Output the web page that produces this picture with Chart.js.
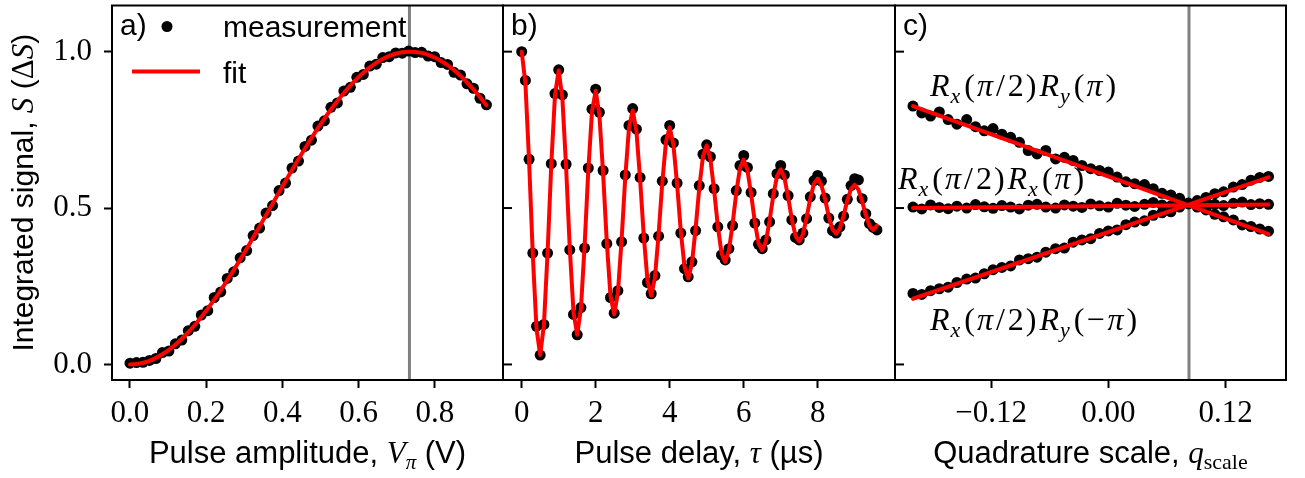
<!DOCTYPE html>
<html>
<head>
<meta charset="utf-8">
<script src="https://cdn.jsdelivr.net/npm/chart.js@4.4.0/dist/chart.umd.min.js"></script>
<style>
  body { margin: 0; background: #fff; }
  #wrap { position: relative; width: 1305px; height: 478px; }
  #wrap canvas { position: absolute; left: 0; top: 0; }
</style>
</head>
<body>
<div id="wrap">
  <canvas id="chartA" width="1305" height="478"></canvas>
  <canvas id="chartB" width="1305" height="478"></canvas>
  <canvas id="chartC" width="1305" height="478"></canvas>
</div>
<script>
// a) amplitude sweep
const ampV = [0.000, 0.017, 0.034, 0.051, 0.068, 0.085, 0.102, 0.119, 0.136, 0.153,
  0.170, 0.187, 0.204, 0.221, 0.238, 0.255, 0.272, 0.289, 0.306, 0.323,
  0.340, 0.357, 0.374, 0.391, 0.408, 0.425, 0.442, 0.459, 0.476, 0.493,
  0.510, 0.527, 0.544, 0.561, 0.578, 0.595, 0.612, 0.629, 0.646, 0.663,
  0.680, 0.697, 0.714, 0.731, 0.748, 0.765, 0.782, 0.799, 0.816, 0.833,
  0.850, 0.867, 0.884, 0.901, 0.918, 0.935];
const ampMeas = [0.004, 0.006, 0.007, 0.013, 0.019, 0.038, 0.043, 0.066, 0.078, 0.108,
  0.122, 0.158, 0.172, 0.214, 0.232, 0.275, 0.296, 0.341, 0.364, 0.412,
  0.436, 0.484, 0.508, 0.556, 0.580, 0.628, 0.650, 0.697, 0.717, 0.762,
  0.779, 0.822, 0.836, 0.874, 0.886, 0.918, 0.927, 0.954, 0.960, 0.981,
  0.984, 0.996, 0.995, 1.002, 0.997, 0.998, 0.986, 0.984, 0.965, 0.959,
  0.934, 0.925, 0.897, 0.883, 0.851, 0.830];
const ampFit = [0.0000, 0.0013, 0.0053, 0.0118, 0.0210, 0.0326, 0.0468, 0.0633, 0.0821, 0.1032,
  0.1263, 0.1514, 0.1783, 0.2070, 0.2371, 0.2689, 0.3015, 0.3351, 0.3701, 0.4055,
  0.4414, 0.4776, 0.5139, 0.5501, 0.5861, 0.6216, 0.6565, 0.6906, 0.7236, 0.7555,
  0.7860, 0.8150, 0.8424, 0.8679, 0.8915, 0.9131, 0.9324, 0.9496, 0.9642, 0.9765,
  0.9862, 0.9934, 0.9980, 0.9999, 0.9992, 0.9959, 0.9900, 0.9814, 0.9703, 0.9568,
  0.9408, 0.9225, 0.9020, 0.8793, 0.8547, 0.8282];
const vPi = 0.733;

// b) delay sweep
const delayUs = [0.0, 0.1, 0.2, 0.3, 0.4, 0.5, 0.6, 0.7, 0.8, 0.9,
  1.0, 1.1, 1.2, 1.3, 1.4, 1.5, 1.6, 1.7, 1.8, 1.9,
  2.0, 2.1, 2.2, 2.3, 2.4, 2.5, 2.6, 2.7, 2.8, 2.9,
  3.0, 3.1, 3.2, 3.3, 3.4, 3.5, 3.6, 3.7, 3.8, 3.9,
  4.0, 4.1, 4.2, 4.3, 4.4, 4.5, 4.6, 4.7, 4.8, 4.9,
  5.0, 5.1, 5.2, 5.3, 5.4, 5.5, 5.6, 5.7, 5.8, 5.9,
  6.0, 6.1, 6.2, 6.3, 6.4, 6.5, 6.6, 6.7, 6.8, 6.9,
  7.0, 7.1, 7.2, 7.3, 7.4, 7.5, 7.6, 7.7, 7.8, 7.9,
  8.0, 8.1, 8.2, 8.3, 8.4, 8.5, 8.6, 8.7, 8.8, 8.9,
  9.0, 9.1, 9.2, 9.3, 9.4, 9.5, 9.6];
const delayMeas = [1.000, 0.908, 0.656, 0.356, 0.122, 0.030, 0.128, 0.356, 0.642, 0.866,
  0.942, 0.862, 0.640, 0.366, 0.160, 0.095, 0.182, 0.372, 0.628, 0.816,
  0.880, 0.806, 0.620, 0.386, 0.214, 0.164, 0.236, 0.392, 0.606, 0.764,
  0.818, 0.752, 0.598, 0.404, 0.262, 0.226, 0.284, 0.410, 0.586, 0.718,
  0.764, 0.708, 0.580, 0.420, 0.306, 0.280, 0.328, 0.428, 0.572, 0.672,
  0.702, 0.664, 0.562, 0.440, 0.350, 0.334, 0.370, 0.444, 0.556, 0.636,
  0.668, 0.630, 0.550, 0.452, 0.384, 0.370, 0.398, 0.456, 0.546, 0.610,
  0.636, 0.606, 0.540, 0.462, 0.406, 0.398, 0.420, 0.466, 0.536, 0.588,
  0.604, 0.586, 0.532, 0.468, 0.428, 0.420, 0.440, 0.474, 0.528, 0.572,
  0.594, 0.590, 0.530, 0.482, 0.450, 0.438, 0.430];
const delayFit = [1.000, 0.900, 0.651, 0.351, 0.115, 0.030, 0.125, 0.358, 0.640, 0.861,
  0.940, 0.850, 0.632, 0.371, 0.167, 0.095, 0.177, 0.379, 0.620, 0.808,
  0.875, 0.798, 0.612, 0.391, 0.219, 0.160, 0.229, 0.398, 0.600, 0.757,
  0.812, 0.747, 0.592, 0.410, 0.268, 0.220, 0.277, 0.416, 0.582, 0.712,
  0.758, 0.703, 0.576, 0.426, 0.313, 0.275, 0.322, 0.434, 0.565, 0.666,
  0.700, 0.657, 0.558, 0.443, 0.356, 0.328, 0.364, 0.449, 0.550, 0.628,
  0.655, 0.622, 0.545, 0.456, 0.388, 0.365, 0.393, 0.460, 0.540, 0.602,
  0.624, 0.598, 0.536, 0.465, 0.411, 0.393, 0.416, 0.469, 0.531, 0.578,
  0.594, 0.574, 0.528, 0.473, 0.432, 0.418, 0.435, 0.476, 0.524, 0.561,
  0.574, 0.559, 0.522, 0.478, 0.443, 0.430, 0.444];

// c) quadrature scale sweep
const qScale = [-0.200, -0.191, -0.182, -0.173, -0.164, -0.155, -0.145, -0.136, -0.127, -0.118,
  -0.109, -0.100, -0.091, -0.082, -0.073, -0.064, -0.054, -0.045, -0.036, -0.027,
  -0.018, -0.009, 0.000, 0.009, 0.018, 0.027, 0.037, 0.046, 0.055, 0.064,
  0.073, 0.082, 0.091, 0.100, 0.109, 0.118, 0.128, 0.137, 0.146, 0.155, 0.164];
const ryPlusMeas = [0.826, 0.804, 0.794, 0.807, 0.783, 0.768, 0.783, 0.760, 0.747, 0.754,
  0.736, 0.726, 0.710, 0.684, 0.673, 0.684, 0.657, 0.662, 0.652, 0.636,
  0.626, 0.620, 0.615, 0.599, 0.584, 0.578, 0.575, 0.562, 0.547, 0.542,
  0.531, 0.515, 0.503, 0.494, 0.480, 0.472, 0.462, 0.446, 0.441, 0.433, 0.426];
const rxPiMeas = [0.503, 0.497, 0.510, 0.502, 0.498, 0.506, 0.500, 0.511, 0.504, 0.499,
  0.508, 0.503, 0.497, 0.509, 0.512, 0.503, 0.500, 0.510, 0.506, 0.502,
  0.513, 0.507, 0.503, 0.515, 0.509, 0.505, 0.512, 0.518, 0.510, 0.507,
  0.516, 0.513, 0.509, 0.517, 0.512, 0.508, 0.515, 0.519, 0.511, 0.514, 0.512];
const ryMinusMeas = [0.227, 0.224, 0.236, 0.242, 0.247, 0.262, 0.273, 0.276, 0.290, 0.303,
  0.310, 0.315, 0.334, 0.338, 0.343, 0.359, 0.370, 0.372, 0.391, 0.398,
  0.402, 0.419, 0.427, 0.430, 0.447, 0.455, 0.459, 0.477, 0.485, 0.488,
  0.503, 0.516, 0.524, 0.534, 0.546, 0.552, 0.567, 0.575, 0.589, 0.598, 0.601];
const qFitEnds = [-0.200, 0.164];
const ryPlusFit = [0.826, 0.417];
const rxPiFit = [0.500, 0.511];
const ryMinusFit = [0.210, 0.598];
const qOpt = 0.0826;

// ticks and ranges
const yTicks = [0, 0.5, 1.0];
const ampTicks = [0, 0.2, 0.4, 0.6, 0.8];
const delayTicks = [0, 2, 4, 6, 8];
const qTicks = [-0.12, 0, 0.12];
const yMin = -0.0497, yMax = 1.1475;

const SANS = '"Liberation Sans", Arial, sans-serif';
const SERIF = '"Liberation Serif", "Times New Roman", serif';
const STY = {
  sans: { font: '30px ' + SANS, dy: 0 },
  tsans: { font: '31px ' + SANS, dy: 0 },
  rm: { font: '31px ' + SERIF, dy: 0 },
  it: { font: 'italic 31px ' + SERIF, dy: 0 },
  sub: { font: 'italic 21px ' + SERIF, dy: 6 },
  subrm: { font: '22px ' + SERIF, dy: 6 },
  mrm: { font: '32px ' + SERIF, dy: 0 },
  mit: { font: 'italic 32px ' + SERIF, dy: 0 },
  msub: { font: 'italic 22px ' + SERIF, dy: 7 }
};

function pts(xs, ys) { return xs.map((x, i) => ({ x: x, y: ys[i] })); }

function dots(label, xs, ys) {
  return { type: 'scatter', label: label, data: pts(xs, ys), pointRadius: 5.5,
    pointBackgroundColor: '#000', pointBorderWidth: 0, showLine: false, order: 1 };
}
function fitLine(label, xs, ys, tension) {
  return { type: 'line', label: label, data: pts(xs, ys), borderColor: '#ff0000',
    borderWidth: 4, borderJoinStyle: 'round', borderCapStyle: 'round',
    pointRadius: 0, tension: tension, fill: false, order: 0 };
}
function marker(x) {
  return { type: 'line', label: 'marker', data: [{ x: x, y: yMin }, { x: x, y: yMax }],
    borderColor: '#808080', borderWidth: 3, pointRadius: 0, fill: false, order: 2 };
}

function richWidth(ctx, segs) {
  let w = 0;
  segs.forEach(s => { ctx.font = STY[s[1]].font; w += ctx.measureText(s[0]).width + (s[2] || 0); });
  return w;
}
function drawRich(ctx, segs, x, y, align) {
  let cx = align === 'center' ? x - richWidth(ctx, segs) / 2 : x;
  ctx.fillStyle = '#000';
  ctx.textBaseline = 'alphabetic';
  ctx.textAlign = 'left';
  segs.forEach(s => {
    const st = STY[s[1]];
    ctx.font = st.font;
    ctx.fillText(s[0], cx, y + st.dy);
    cx += ctx.measureText(s[0]).width + (s[2] || 0);
  });
}

const decor = {
  id: 'decor',
  afterDatasetsDraw(chart, args, o) {
    const ctx = chart.ctx, a = chart.chartArea;
    ctx.save();
    ctx.strokeStyle = '#000';
    ctx.lineWidth = 2;
    ctx.strokeRect(a.left, a.top, a.right - a.left, a.bottom - a.top);
    if (o.innerTicks) {
      yTicks.forEach(v => {
        const py = chart.scales.y.getPixelForValue(v);
        ctx.beginPath();
        ctx.moveTo(a.left, py);
        ctx.lineTo(a.left + 9, py);
        ctx.stroke();
      });
    }
    ctx.restore();
  },
  afterDraw(chart, args, o) {
    const ctx = chart.ctx, a = chart.chartArea;
    ctx.save();
    drawRich(ctx, [[o.label, 'sans']], a.left + 8, a.top + 29, 'left');
    drawRich(ctx, o.title, (a.left + a.right) / 2, 463, 'center');
    if (o.yTitle) {
      ctx.save();
      ctx.translate(33, (a.top + a.bottom) / 2);
      ctx.rotate(-Math.PI / 2);
      drawRich(ctx, o.yTitle, 0, 0, 'center');
      ctx.restore();
    }
    (o.notes || []).forEach(n => {
      drawRich(ctx, n.segs, chart.scales.x.getPixelForValue(n.q), chart.scales.y.getPixelForValue(n.s), 'left');
    });
    if (o.legend) {
      const ds = chart.data.datasets;
      const meas = ds.find(d => d.type === 'scatter');
      const fit = ds.find(d => d.borderColor === '#ff0000');
      ctx.fillStyle = '#000';
      ctx.beginPath();
      ctx.arc(a.left + 55, a.top + 21, 5.5, 0, Math.PI * 2);
      ctx.fill();
      drawRich(ctx, [[meas.label, 'sans']], a.left + 111, a.top + 31, 'left');
      ctx.strokeStyle = '#ff0000';
      ctx.lineWidth = 4;
      ctx.beginPath();
      ctx.moveTo(a.left + 20, a.top + 66);
      ctx.lineTo(a.left + 88, a.top + 66);
      ctx.stroke();
      drawRich(ctx, [[fit.label, 'sans']], a.left + 111, a.top + 77, 'left');
    }
    ctx.restore();
  }
};

function xScale(min, max, ticks, fmt) {
  return {
    type: 'linear', min: min, max: max,
    afterBuildTicks: s => { s.ticks = ticks.map(v => ({ value: v })); },
    afterFit: s => { s.height = 98; s.paddingLeft = 0; s.paddingRight = 0; },
    grid: { drawOnChartArea: false, drawTicks: true, tickLength: 8, tickWidth: 2, tickColor: '#000' },
    border: { display: false },
    ticks: { color: '#000', font: { family: SERIF, size: 31 }, padding: 7,
      maxRotation: 0, autoSkip: false, callback: v => fmt(v) }
  };
}
function yScale(show) {
  return {
    type: 'linear', min: yMin, max: yMax, display: show,
    afterBuildTicks: s => { s.ticks = yTicks.map(v => ({ value: v })); },
    afterFit: s => { s.width = show ? 112 : 0; s.paddingTop = 0; s.paddingBottom = 0; },
    grid: { drawOnChartArea: false, drawTicks: true, tickLength: 8, tickWidth: 2, tickColor: '#000' },
    border: { display: false },
    ticks: { color: '#000', font: { family: SERIF, size: 31 }, padding: 12,
      callback: v => v.toFixed(1) }
  };
}

function makeChart(id, datasets, padding, xs, showY, deco) {
  return new Chart(document.getElementById(id), {
    type: 'scatter',
    data: { datasets: datasets },
    options: {
      responsive: false, animation: false, devicePixelRatio: 1,
      layout: { padding: padding },
      scales: { x: xs, y: yScale(showY) },
      plugins: { legend: { display: false }, tooltip: { enabled: false }, decor: deco }
    },
    plugins: [decor]
  });
}

// math label pieces, with small gaps to mimic the wider TeX spacing
function rot(axis, arg) {
  return [['R', 'mit', 1], [axis, 'msub', 4], ['(', 'mrm', 2], ['π', 'mit', 3], ['/', 'mrm', 3], ['2', 'mrm', 2], [')', 'mrm', 3]]
    .concat([['R', 'mit', 1], [arg.ax, 'msub', 4], ['(', 'mrm', 2]])
    .concat(arg.neg ? [['−', 'mrm', 3]] : [])
    .concat([['π', 'mit', 3], [')', 'mrm', 0]]);
}

makeChart('chartA',
  [fitLine('fit', ampV, ampFit, 0.3), dots('measurement', ampV, ampMeas), marker(vPi)],
  { left: 0, top: 2, right: 802, bottom: 0 },
  xScale(-0.0472, 0.9784, ampTicks, v => v.toFixed(1)), true,
  { label: 'a)', legend: true,
    title: [['Pulse amplitude, ', 'tsans'], ['V', 'it'], ['π', 'sub'], [' (V)', 'tsans']],
    yTitle: [['Integrated signal, ', 'sans'], ['S', 'it'], [' (', 'sans'], ['Δ', 'rm'], ['S', 'it'], [')', 'sans']] });

makeChart('chartB',
  [fitLine('fit', delayUs, delayFit, 0), dots('measurement', delayUs, delayMeas)],
  { left: 503, top: 2, right: 410, bottom: 0 },
  xScale(-0.505, 10.089, delayTicks, v => v.toFixed(0)), false,
  { label: 'b)', innerTicks: true,
    title: [['Pulse delay, ', 'tsans'], ['τ', 'it'], [' (µs)', 'tsans']] });

makeChart('chartC',
  [fitLine('fit Ry(π)', qFitEnds, ryPlusFit, 0), fitLine('fit Rx(π)', qFitEnds, rxPiFit, 0),
   fitLine('fit Ry(-π)', qFitEnds, ryMinusFit, 0),
   dots('Ry(π)', qScale, ryPlusMeas), dots('Rx(π)', qScale, rxPiMeas), dots('Ry(-π)', qScale, ryMinusMeas),
   marker(qOpt)],
  { left: 895, top: 2, right: 19, bottom: 0 },
  xScale(-0.2184, 0.1819, qTicks, v => v.toFixed(2).replace('-', '\u2212')), false,
  { label: 'c)', innerTicks: true,
    title: [['Quadrature scale, ', 'tsans'], ['q', 'it'], ['scale', 'subrm']],
    notes: [
      { q: -0.1826, s: 0.859, segs: rot('x', { ax: 'y', neg: false }) },
      { q: -0.2153, s: 0.5616, segs: rot('x', { ax: 'x', neg: false }) },
      { q: -0.1826, s: 0.1086, segs: rot('x', { ax: 'y', neg: true }) }
    ] });
</script>
</body>
</html>
